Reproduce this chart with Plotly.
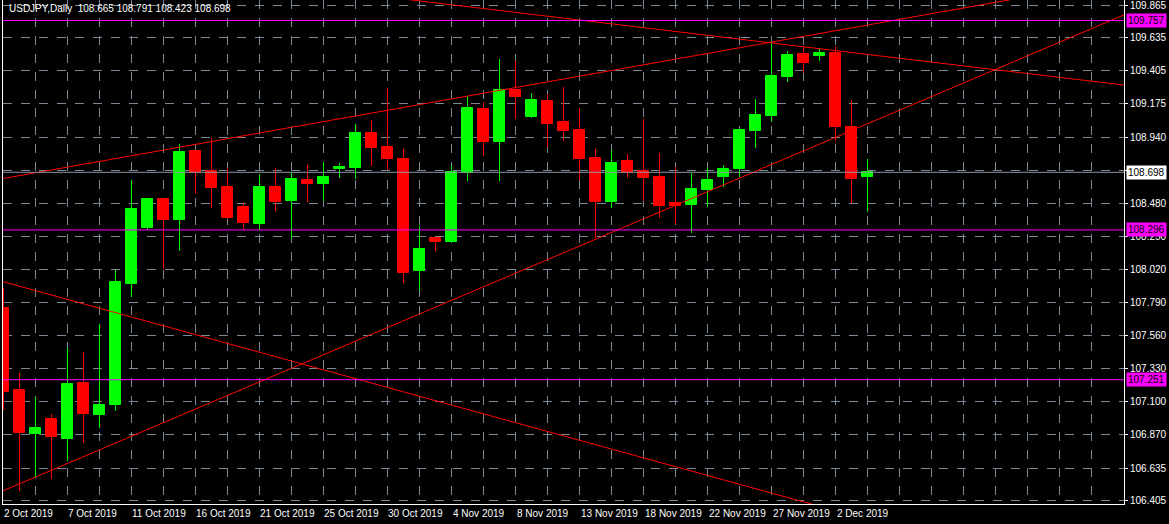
import numpy as np
import plotly.graph_objects as go

# daily USDJPY bars
opens = [107.751, 107.179, 106.872, 106.977, 106.838, 107.228, 107.005, 107.075, 107.919, 108.310,
         108.512, 108.365, 108.847, 108.707, 108.596, 108.456, 108.337, 108.596, 108.498, 108.644,
         108.616, 108.721, 108.728, 108.972, 108.875, 108.791, 108.010, 108.240, 108.212, 108.693,
         109.140, 108.909, 109.272, 109.084, 109.195, 109.049, 108.993, 108.798, 108.491, 108.777,
         108.707, 108.665, 108.484, 108.470, 108.575, 108.665, 108.721, 108.986, 109.091, 109.363,
         109.523, 109.509, 109.530, 109.014, 108.665]
highs = [107.891, 107.298, 107.131, 107.012, 107.472, 107.444, 107.640, 108.017, 108.644, 108.519,
         108.519, 108.896, 108.854, 108.937, 108.728, 108.484, 108.686, 108.728, 108.700, 108.749,
         108.770, 108.763, 109.035, 109.063, 109.286, 108.861, 108.323, 108.245, 108.749, 109.230,
         109.188, 109.488, 109.475, 109.251, 109.244, 109.293, 109.147, 108.861, 108.854, 108.826,
         109.070, 108.833, 108.735, 108.693, 108.728, 108.749, 109.000, 109.209, 109.607, 109.544,
         109.579, 109.565, 109.579, 109.202, 108.791]
lows = [107.040, 106.475, 106.566, 106.559, 106.684, 106.810, 106.914, 107.033, 107.828, 108.296,
        108.024, 108.149, 108.547, 108.449, 108.372, 108.296, 108.296, 108.428, 108.240, 108.491,
        108.498, 108.658, 108.651, 108.742, 108.714, 107.926, 107.870, 108.149, 108.205, 108.637,
        108.812, 108.637, 109.070, 109.077, 108.875, 108.916, 108.644, 108.240, 108.449, 108.658,
        108.498, 108.379, 108.337, 108.275, 108.456, 108.596, 108.665, 108.868, 109.049, 109.328,
        109.391, 109.475, 108.916, 108.484, 108.423]
closes = [107.165, 106.879, 106.914, 106.852, 107.221, 107.012, 107.075, 107.933, 108.442, 108.512,
          108.365, 108.840, 108.693, 108.589, 108.379, 108.344, 108.596, 108.491, 108.651, 108.616,
          108.665, 108.735, 108.972, 108.868, 108.791, 107.996, 108.163, 108.212, 108.700, 109.147,
          108.909, 109.272, 109.223, 109.202, 109.035, 108.986, 108.791, 108.491, 108.763, 108.693,
          108.658, 108.463, 108.463, 108.582, 108.644, 108.721, 108.993, 109.098, 109.370, 109.516,
          109.461, 109.530, 109.014, 108.651, 108.698]

date_labels = ["2 Oct 2019", "7 Oct 2019", "11 Oct 2019", "16 Oct 2019", "21 Oct 2019",
               "25 Oct 2019", "30 Oct 2019", "4 Nov 2019", "8 Nov 2019", "13 Nov 2019",
               "18 Nov 2019", "22 Nov 2019", "27 Nov 2019", "2 Dec 2019"]
price_ticks = [109.865, 109.635, 109.405, 109.175, 108.940, 108.710, 108.480, 108.250,
               108.020, 107.790, 107.560, 107.330, 107.100, 106.870, 106.635, 106.405]
tick_text = ["" if p == 108.710 else f"{p:.3f}" for p in price_ticks]
h_levels = [109.757, 108.296, 107.251]
bid = 108.698

# trend lines as (bar, price) anchor pairs
trend_lines = [
    ([-0.2, 49.8], [107.940, 106.405]),
    ([-0.2, 70.0], [106.468, 109.795]),
    ([-0.2, 56.0], [108.651, 109.765]),
    ([41.2, 70.0], [109.691, 109.307]),
]

GREEN, RED = "#00ff00", "#ff0000"
FONT = "Liberation Sans"
x = np.arange(len(opens))
up = np.array(closes) >= np.array(opens)
XR = [-0.03, 70.03]
YR = [106.384, 109.900]

fig = go.Figure()

for flag, col in [(True, GREEN), (False, RED)]:
    idx = x[up == flag]
    wx, wy = [], []
    for i in idx:
        wx += [i, i, None]
        wy += [lows[i], highs[i], None]
    fig.add_trace(go.Scatter(x=wx, y=wy, mode="lines", line=dict(color=col, width=1),
                             hoverinfo="skip", showlegend=False))
    base = [min(opens[i], closes[i]) for i in idx]
    hgt = [abs(closes[i] - opens[i]) for i in idx]
    fig.add_trace(go.Bar(x=idx, y=hgt, base=base, width=0.68, marker=dict(color=col, line=dict(color=col, width=1)),
                         showlegend=False))

for bx, py in trend_lines:
    slope = (py[1] - py[0]) / (bx[1] - bx[0])
    xs = np.array([XR[0], XR[1] + 5])
    ys = py[0] + slope * (xs - bx[0])
    fig.add_trace(go.Scatter(x=xs, y=ys, mode="lines", line=dict(color=RED, width=1),
                             hoverinfo="skip", showlegend=False))

for lv in h_levels:
    fig.add_hline(y=lv, line=dict(color="#ff00ff", width=1))
    fig.add_annotation(x=1, xref="paper", y=lv, xanchor="left", yanchor="middle", xshift=2,
                       text=f"{lv:.3f}", showarrow=False, bgcolor="#ff00ff",
                       font=dict(color="black", size=10, family=FONT), borderpad=1)
fig.add_hline(y=bid, line=dict(color="#8a96a4", width=1))
fig.add_annotation(x=1, xref="paper", y=bid, xanchor="left", yanchor="middle", xshift=2,
                   text=f"{bid:.3f}", showarrow=False, bgcolor="white",
                   font=dict(color="black", size=10, family=FONT), borderpad=1)

for k, lab in enumerate(date_labels):
    fig.add_annotation(x=4 * k, y=0, yref="paper", xanchor="left", yanchor="top", yshift=-2, xshift=-1,
                       text=lab, showarrow=False, font=dict(color="white", size=10, family=FONT))

fig.add_annotation(x=0, xref="paper", y=1, yref="paper", xanchor="left", yanchor="top", xshift=4, yshift=-1,
                   text=f"USDJPY,Daily  {opens[-1]:.3f} {highs[-1]:.3f} {lows[-1]:.3f} {closes[-1]:.3f}",
                   showarrow=False, font=dict(color="white", size=10, family=FONT))

fig.update_layout(
    width=1169, height=524,
    paper_bgcolor="black", plot_bgcolor="black",
    margin=dict(l=3, r=45, t=0, b=20),
    barmode="overlay", bargap=0, hovermode=False,
    xaxis=dict(range=XR, tickvals=list(range(0, 71, 2)), showticklabels=False,
               showgrid=True, gridcolor="#7c8896", griddash="dash", gridwidth=1,
               showline=True, linecolor="white", linewidth=1, zeroline=False, fixedrange=True),
    yaxis=dict(range=YR, side="right", tickvals=price_ticks, ticktext=tick_text,
               showgrid=True, gridcolor="#7c8896", griddash="dash", gridwidth=1,
               ticks="outside", ticklen=3, tickcolor="white", ticklabeloverflow="allow",
               tickfont=dict(color="white", size=10, family=FONT),
               showline=True, mirror=True, linecolor="white", linewidth=1, zeroline=False),
)

fig.write_html("out.html", config={"displayModeBar": False},
               post_script="document.body.style.margin='0';document.body.style.overflow='hidden';")
